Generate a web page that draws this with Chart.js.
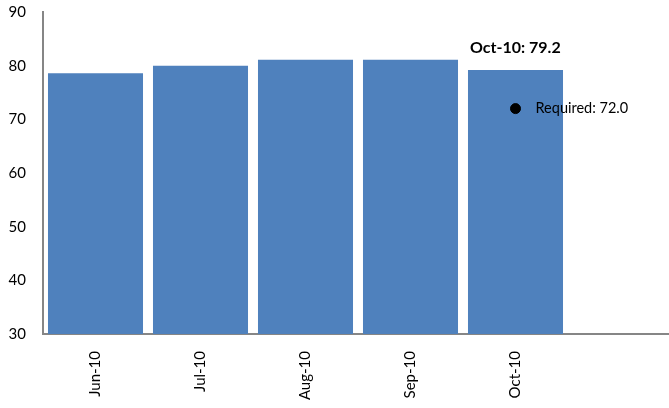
<!DOCTYPE html>
<html>
<head>
<meta charset="utf-8">
<script src="https://cdn.jsdelivr.net/npm/chart.js@4/dist/chart.umd.min.js"></script>
<style>
  html, body { margin: 0; padding: 0; background: #fff; overflow: hidden; }
  #wrap { width: 669px; height: 408px; overflow: hidden; }
</style>
</head>
<body>
<div id="wrap"><canvas id="myChart" width="673" height="408"></canvas></div>
<script>
let months = ['Jun-10', 'Jul-10', 'Aug-10', 'Sep-10', 'Oct-10', ''];
let actual = [78.6, 80.0, 81.1, 81.1, 79.2, null];
let required = [null, null, null, null, 72.0, null];
let yTicks = [30, 40, 50, 60, 70, 80, 90];

let fontFamily = 'Lato, "Open Sans", sans-serif';

// text labels for the latest month and the required point
let notes = {
  id: 'notes',
  afterDatasetsDraw(chart) {
    let c = chart.ctx;
    let bar = chart.getDatasetMeta(0).data[4];
    let pt = chart.getDatasetMeta(1).data[4];
    c.save();
    c.fillStyle = '#000';
    c.textBaseline = 'alphabetic';
    c.textAlign = 'left';
    c.font = 'bold 16px ' + fontFamily;
    c.fillText(months[4] + ': ' + actual[4].toFixed(1), bar.x - bar.width / 2 + 2, bar.y - 17);
    c.font = '14.5px ' + fontFamily;
    c.textBaseline = 'middle';
    c.fillText('Required: ' + required[4].toFixed(1), pt.x + 20, pt.y);
    c.restore();
  }
};

let ctx = document.getElementById('myChart').getContext('2d');
let myChart = new Chart(ctx, {
  type: 'bar',
  data: {
    labels: months,
    datasets: [{
      data: actual,
      backgroundColor: '#4f81bd',
      categoryPercentage: 1,
      barPercentage: 0.905,
      order: 2
    }, {
      type: 'line',
      data: required,
      showLine: false,
      pointRadius: 5,
      pointBackgroundColor: '#000',
      pointBorderColor: '#000',
      order: 1
    }]
  },
  plugins: [notes],
  options: {
    responsive: false,
    animation: false,
    layout: { autoPadding: false, padding: { top: 12, right: 0, left: 0, bottom: 0 } },
    plugins: {
      legend: { display: false },
      tooltip: { enabled: false }
    },
    scales: {
      x: {
        grid: { display: false, drawTicks: false },
        border: { display: true, color: '#868686', width: 2 },
        ticks: {
          color: '#000',
          font: { family: fontFamily, size: 15 },
          minRotation: 90,
          maxRotation: 90,
          padding: 17
        },
        afterFit: (axis) => {
          axis.height = 74;
          axis.paddingLeft = 0;
          axis.paddingRight = 0;
        }
      },
      y: {
        min: 30,
        max: 90,
        afterBuildTicks: (axis) => { axis.ticks = yTicks.map(v => ({ value: v })); },
        grid: { display: false, drawTicks: false },
        border: { display: true, color: '#868686', width: 2 },
        ticks: {
          color: '#000',
          font: { family: fontFamily, size: 15 },
          padding: 17
        },
        afterFit: (axis) => {
          axis.width = 43;
          axis.paddingTop = 0;
          axis.paddingBottom = 0;
        }
      }
    }
  }
});
</script>
</body>
</html>
